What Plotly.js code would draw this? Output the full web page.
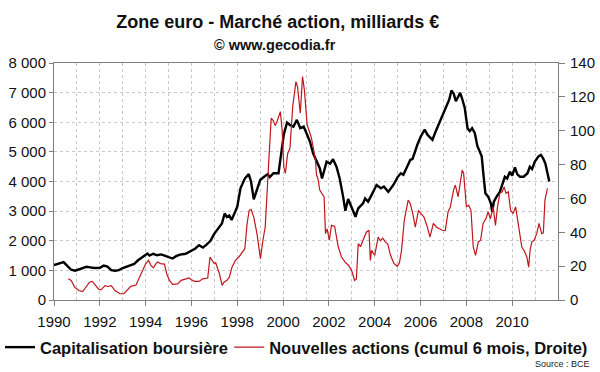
<!DOCTYPE html>
<html>
<head>
<meta charset="utf-8">
<script src="https://cdn.plot.ly/plotly-3.0.1.min.js"></script>
<style>
html,body{margin:0;padding:0;background:#fff;}
#chart{width:600px;height:372px;}
</style>
</head>
<body>
<div id="chart"></div>
<script>
// Capitalisation boursière (milliards €, left axis)
const capYears = [1990.00,1990.12,1990.25,1990.42,1990.58,1990.75,1990.92,1991.08,1991.25,1991.42,1991.58,1991.75,1992.00,1992.17,1992.33,1992.50,1992.67,1992.83,1993.00,1993.17,1993.33,1993.50,1993.67,1993.83,1994.00,1994.08,1994.17,1994.33,1994.50,1994.67,1994.83,1995.00,1995.17,1995.33,1995.50,1995.75,1996.00,1996.17,1996.33,1996.50,1996.67,1996.83,1997.00,1997.17,1997.33,1997.45,1997.55,1997.65,1997.75,1997.85,1998.00,1998.14,1998.33,1998.50,1998.60,1998.72,1998.86,1999.00,1999.17,1999.33,1999.42,1999.58,1999.80,1999.93,2000.03,2000.17,2000.31,2000.45,2000.60,2000.75,2000.90,2001.05,2001.17,2001.31,2001.46,2001.60,2001.70,2001.78,2001.90,2002.05,2002.18,2002.33,2002.47,2002.62,2002.72,2002.84,2002.95,2003.06,2003.16,2003.28,2003.49,2003.58,2003.71,2003.86,2004.08,2004.27,2004.40,2004.59,2004.81,2005.00,2005.14,2005.25,2005.40,2005.55,2005.65,2005.75,2005.86,2006.01,2006.18,2006.30,2006.52,2006.66,2006.81,2007.00,2007.14,2007.25,2007.35,2007.45,2007.54,2007.64,2007.73,2007.83,2007.93,2008.05,2008.15,2008.25,2008.37,2008.48,2008.58,2008.67,2008.75,2008.83,2008.95,2009.07,2009.13,2009.20,2009.32,2009.46,2009.56,2009.68,2009.78,2009.90,2010.00,2010.12,2010.22,2010.34,2010.50,2010.67,2010.77,2010.87,2010.99,2011.14,2011.25,2011.35,2011.45,2011.54,2011.62];
const capValues = [1180,1210,1250,1280,1150,1020,990,1040,1090,1120,1100,1080,1090,1160,1130,1010,990,1010,1080,1130,1170,1220,1340,1430,1540,1570,1500,1560,1510,1540,1500,1450,1400,1480,1530,1560,1680,1740,1850,1770,1880,2000,2240,2410,2580,2920,2800,2850,2700,2880,3150,3770,4100,4250,4000,3400,3710,4050,4160,4250,4150,4280,4280,4950,5580,5990,5900,5850,6080,5800,5850,5580,5350,4950,4670,4450,4100,4370,4670,4600,4750,4500,4100,3490,3010,3410,3200,2980,2810,3090,3260,3430,3320,3540,3880,3770,3830,3650,3880,4150,4280,4230,4500,4730,4760,5010,5240,5520,5750,5580,5410,5690,5970,6310,6540,6760,7070,6960,6710,6880,6990,6760,6480,5800,5700,5800,5630,5200,5000,4850,4200,3600,3490,3260,2980,3320,3490,3650,3880,4160,4100,4330,4200,4480,4250,4160,4160,4280,4500,4420,4670,4840,4900,4780,4600,4330,4000];

// Nouvelles actions, cumul 6 mois (milliards €, right axis)
const newYears = [1990.62,1990.75,1990.90,1991.08,1991.25,1991.40,1991.55,1991.67,1991.80,1991.94,1992.05,1992.23,1992.35,1992.50,1992.66,1992.88,1993.05,1993.18,1993.35,1993.58,1993.73,1993.87,1994.00,1994.13,1994.23,1994.34,1994.45,1994.53,1994.65,1994.82,1994.92,1995.04,1995.18,1995.40,1995.55,1995.76,1995.90,1996.00,1996.13,1996.33,1996.49,1996.71,1996.81,1996.90,1997.00,1997.06,1997.22,1997.34,1997.42,1997.55,1997.65,1997.77,1997.92,1998.07,1998.20,1998.33,1998.43,1998.52,1998.60,1998.72,1998.86,1999.01,1999.12,1999.22,1999.37,1999.48,1999.57,1999.66,1999.75,1999.88,1999.96,2000.03,2000.10,2000.20,2000.30,2000.42,2000.56,2000.63,2000.75,2000.85,2000.93,2001.05,2001.15,2001.24,2001.31,2001.41,2001.46,2001.52,2001.60,2001.68,2001.79,2001.85,2001.92,2002.02,2002.11,2002.25,2002.41,2002.55,2002.71,2002.86,2003.00,2003.12,2003.20,2003.28,2003.38,2003.49,2003.64,2003.75,2003.81,2003.86,2004.00,2004.15,2004.25,2004.35,2004.46,2004.57,2004.69,2004.83,2004.98,2005.08,2005.17,2005.29,2005.46,2005.55,2005.66,2005.77,2005.91,2006.02,2006.15,2006.30,2006.41,2006.56,2006.70,2006.95,2007.08,2007.20,2007.30,2007.44,2007.52,2007.64,2007.75,2007.82,2007.88,2008.00,2008.10,2008.20,2008.30,2008.40,2008.52,2008.62,2008.73,2008.85,2008.95,2009.05,2009.17,2009.27,2009.36,2009.46,2009.56,2009.65,2009.73,2009.83,2009.93,2010.04,2010.15,2010.27,2010.42,2010.53,2010.64,2010.72,2010.78,2010.86,2010.96,2011.07,2011.17,2011.29,2011.36,2011.43,2011.54];
const newValues = [12.6,11.5,7.6,5.6,5.0,7.5,10.5,11.0,9.0,6.5,6.0,8.5,8.0,8.5,5.6,3.7,3.8,5.6,8.1,8.8,13.5,17.5,21.4,23.4,20.4,19.0,21.5,22.4,21.5,21.2,15.5,11.6,9.2,9.5,11.6,12.5,13.0,12.0,11.0,11.0,12.5,13.0,25.4,23.4,21.4,22.0,15.5,8.6,10.5,11.6,13.3,19.4,23.4,25.4,27.7,30.3,45.2,53.0,53.6,49,39.2,24.4,35.3,43.1,80.7,107.4,106,103,106,111.3,100,78.7,74.8,86.6,89.6,114.3,129,126,110.3,132,124,103.4,99.5,95.5,90.6,82.7,73.8,71.8,64.9,63,60.9,39.2,42,35.3,44.1,43.5,31.3,25.4,22.4,20.4,17.1,11.6,12.5,33.3,31.5,35.3,40.2,41.2,23.4,29.3,26.3,37.2,35,36.5,34.3,33,26.4,21.8,19.9,22,29.3,47.1,59,57,51,43,53,51,49,43,37.2,45.2,43,41.2,41,52,55,64.9,67.9,61,70.8,76.7,75,55,56,53,31.3,26.4,34.3,35.3,45.2,48,52,48,55,44.1,55,63,63.9,66.8,63,63.9,53,51,55,45.2,31.3,29,25.4,19.4,29.3,34.3,35.3,39.2,45.2,39.2,39.6,59,65.9];

const xTickVals = [1990,1992,1994,1996,1998,2000,2002,2004,2006,2008,2010];
const xTickText = ['1990','1992','1994','1996','1998','2000','2002','2004','2006','2008','2010'];

const FONT = 'Liberation Sans, Arial, Helvetica, sans-serif';
const AXIS = '#7f7f7f';
const GRID = '#c8c8c8';
const LEGFONT = {family: FONT, size: 16.5, color: '#111', weight: 'bold'};

const traces = [
  {x: capYears, y: capValues, type: 'scatter', mode: 'lines', name: 'Capitalisation boursière',
   line: {color: '#000000', width: 2.4}, yaxis: 'y', legend: 'legend'},
  {x: newYears, y: newValues, type: 'scatter', mode: 'lines', name: 'Nouvelles actions (cumul 6 mois, Droite)',
   line: {color: '#c0161d', width: 1.2}, yaxis: 'y2', legend: 'legend2'}
];

const layout = {
  width: 600, height: 372,
  margin: {l: 54, r: 42, t: 63, b: 72, autoexpand: false},
  paper_bgcolor: '#fff', plot_bgcolor: '#fff',
  separators: ', ',
  font: {family: FONT, color: '#000', size: 15},
  showlegend: true,
  title: {text: '<b>Zone euro - Marché action, milliards €</b>', font: {family: FONT, size: 18, color: '#111'},
          x: 0.463, xanchor: 'center', xref: 'container', y: 0.958, yanchor: 'top', yref: 'container'},
  annotations: [
    {text: '<b>© www.gecodia.fr</b>', xref: 'paper', yref: 'paper', x: 0.438, y: 1.0, yanchor: 'bottom', xanchor: 'center',
     showarrow: false, font: {family: FONT, size: 14.5, color: '#111'}, yshift: 8},
    {text: 'Source : BCE', xref: 'paper', yref: 'paper', x: 1.068, y: -0.268, xanchor: 'right', yanchor: 'middle',
     showarrow: false, font: {family: FONT, size: 9, color: '#222'}}
  ],
  legend: {orientation: 'h', x: -0.005, xanchor: 'left', xref: 'container', y: -0.2, yanchor: 'middle',
           font: LEGFONT, itemwidth: 30, borderwidth: 0, bgcolor: 'rgba(0,0,0,0)'},
  legend2: {orientation: 'h', x: 0.382, xanchor: 'left', xref: 'container', y: -0.2, yanchor: 'middle',
           font: LEGFONT, itemwidth: 30, borderwidth: 0, bgcolor: 'rgba(0,0,0,0)'},
  xaxis: {range: [1990, 2012], tickvals: xTickVals, ticktext: xTickText, ticks: 'outside', ticklen: 5, tickcolor: AXIS,
          showline: true, linecolor: AXIS, linewidth: 1, mirror: true, showgrid: true, gridcolor: GRID, griddash: 'dot',
          zeroline: false, tickangle: 0, automargin: false, ticklabelstandoff: 3,
          tickfont: {family: FONT, size: 15, color: '#111'},
          minor: {dtick: 1, tick0: 1990, showgrid: true, gridcolor: GRID, griddash: 'dot', ticks: ''}},
  yaxis: {range: [0, 8000], dtick: 1000, tickformat: ',', separatethousands: true, ticks: 'outside', ticklen: 4, tickcolor: AXIS,
          showline: true, linecolor: AXIS, linewidth: 1, showgrid: true, gridcolor: GRID, griddash: 'dot', zeroline: false,
          automargin: false, tickfont: {family: FONT, size: 15, color: '#111'}},
  yaxis2: {range: [0, 140], dtick: 20, overlaying: 'y', side: 'right', ticks: 'outside', ticklen: 6, tickcolor: AXIS,
           showline: true, linecolor: AXIS, linewidth: 1, showgrid: false, zeroline: false, automargin: false,
           ticklabelstandoff: 2, tickfont: {family: FONT, size: 15, color: '#111'}}
};

Plotly.newPlot('chart', traces, layout, {displayModeBar: false, staticPlot: true});
</script>
</body>
</html>
